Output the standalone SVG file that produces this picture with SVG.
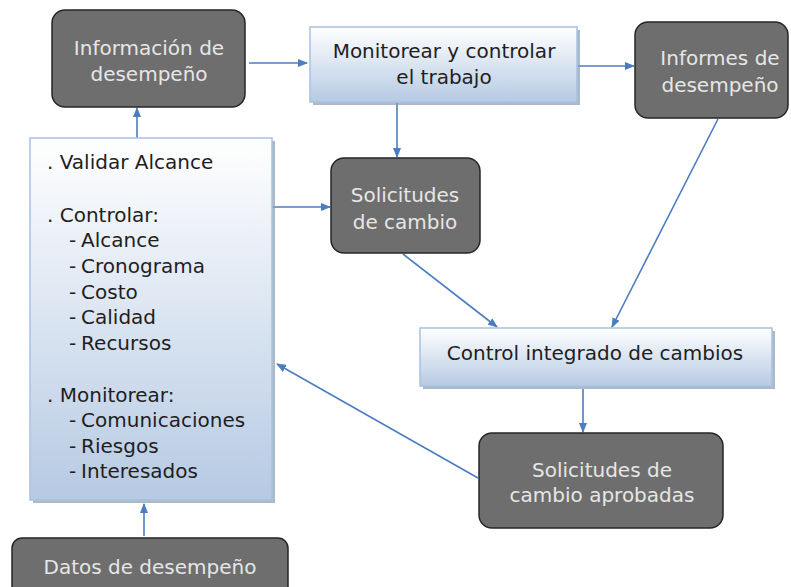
<svg xmlns="http://www.w3.org/2000/svg" width="791" height="587" viewBox="0 0 791 587">
<defs>
<linearGradient id="lb" x1="0" y1="0" x2="0" y2="1">
<stop offset="0" stop-color="#ffffff"/>
<stop offset="1" stop-color="#b6cae3"/>
</linearGradient>
<marker id="ah" markerWidth="10" markerHeight="8" refX="9" refY="4" orient="auto" markerUnits="userSpaceOnUse">
<path d="M0,0 L10,4 L0,8 Z" fill="#4a7ebf"/>
</marker>
</defs>
<style>
.dark{fill:#6e6e6e;stroke:#262626;stroke-width:1.5}
.light{fill:url(#lb);stroke:#a9c1df;stroke-width:1.5}
.shadow{fill:#8c9bb0;opacity:0.7}
.tw{font-family:"DejaVu Sans",Verdana,sans-serif;font-size:20px;fill:#e6e6e6;text-anchor:middle}
.tb{font-family:"DejaVu Sans",Verdana,sans-serif;font-size:20px;fill:#1e1e1e;text-anchor:middle}
.tl{font-family:"DejaVu Sans",Verdana,sans-serif;font-size:20px;fill:#1e1e1e}
.sub{word-spacing:-1.5px}
.c{stroke:#4a7ebf;stroke-width:1.6;fill:none;marker-end:url(#ah)}
</style>
<rect width="791" height="587" fill="#ffffff"/>
<g id="connectors">
<line class="c" x1="249" y1="63" x2="307" y2="63"/>
<line class="c" x1="578" y1="66" x2="634" y2="66"/>
<line class="c" x1="137" y1="138" x2="137" y2="108"/>
<line class="c" x1="397" y1="103" x2="397" y2="157"/>
<line class="c" x1="272" y1="207" x2="330" y2="207"/>
<line class="c" x1="403" y1="254" x2="497" y2="327"/>
<line class="c" x1="718" y1="119" x2="612" y2="327"/>
<line class="c" x1="583" y1="389" x2="583" y2="432"/>
<line class="c" x1="478" y1="478" x2="277" y2="364"/>
<line class="c" x1="144" y1="536" x2="144" y2="504"/>
</g>
<g id="info-desempeno">
<rect class="dark" x="52" y="10" width="193" height="97" rx="13"/>
<text class="tw" x="149" y="55">Información de</text>
<text class="tw" x="149" y="81">desempeño</text>
</g>
<g id="monitorear">
<rect class="shadow" x="313" y="30" width="267" height="75"/>
<rect class="light" x="310" y="27" width="267" height="75"/>
<text class="tb" x="444" y="58">Monitorear y controlar</text>
<text class="tb" x="444" y="84">el trabajo</text>
</g>
<g id="informes">
<rect class="dark" x="635" y="22" width="153" height="96" rx="13"/>
<text class="tw" x="720" y="65">Informes de</text>
<text class="tw" x="720" y="92">desempeño</text>
</g>
<g id="procesos">
<rect class="shadow" x="33" y="141" width="242" height="362"/>
<rect class="light" x="30" y="138" width="242" height="362"/>
<text class="tl" x="47" y="169">. Validar Alcance</text>
<text class="tl" x="47" y="222">. Controlar:</text>
<text class="tl sub" x="69" y="247">- Alcance</text>
<text class="tl sub" x="69" y="273">- Cronograma</text>
<text class="tl sub" x="69" y="299">- Costo</text>
<text class="tl sub" x="69" y="324">- Calidad</text>
<text class="tl sub" x="69" y="350">- Recursos</text>
<text class="tl" x="47" y="402">. Monitorear:</text>
<text class="tl sub" x="69" y="427">- Comunicaciones</text>
<text class="tl sub" x="69" y="453">- Riesgos</text>
<text class="tl sub" x="69" y="478">- Interesados</text>
</g>
<g id="solicitudes">
<rect class="dark" x="331" y="158" width="149" height="95" rx="13"/>
<text class="tw" x="405" y="202">Solicitudes</text>
<text class="tw" x="405" y="229">de cambio</text>
</g>
<g id="control-integrado">
<rect class="shadow" x="423" y="331" width="352" height="58"/>
<rect class="light" x="420" y="328" width="352" height="58"/>
<text class="tb" x="595" y="360">Control integrado de cambios</text>
</g>
<g id="aprobadas">
<rect class="dark" x="479" y="433" width="244" height="95" rx="13"/>
<text class="tw" x="602" y="477">Solicitudes de</text>
<text class="tw" x="602" y="502">cambio aprobadas</text>
</g>
<g id="datos">
<rect class="dark" x="12" y="538" width="276" height="60" rx="10"/>
<text class="tw" x="150" y="574">Datos de desempeño</text>
</g>
</svg>
